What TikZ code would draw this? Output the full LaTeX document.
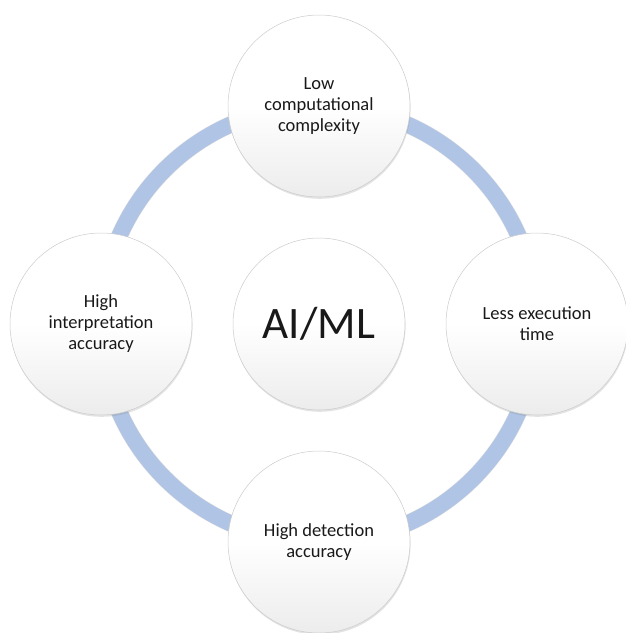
\documentclass[tikz,border=0pt]{standalone}
\usepackage{fontspec}
\setmainfont{Carlito}
\usepackage{xcolor}
\usepackage{tikz}
\usetikzlibrary{positioning,calc,shadows,backgrounds}

\definecolor{ringblue}{HTML}{B0C4E5}
\definecolor{bubblegray}{HTML}{ECECEC}

\begin{document}
\begin{tikzpicture}[x=1pt,y=1pt]

		\tikzset{
			bubble/.style={circle, draw=gray!40, line width=0.5pt,
				top color=white, bottom color=bubblegray, middle color=white,
				drop shadow={opacity=0.22, shadow xshift=0.6pt, shadow yshift=-1.8pt},
				minimum size=182pt, inner sep=0pt, align=center, text=black!90,
				font=\fontsize{18.5}{21}\selectfont},
			hub/.style={bubble, minimum size=172pt, font=\fontsize{45}{50}\selectfont},
			ring/.style={line width=16pt, draw=ringblue},
			ringshade/.style={line width=17pt, draw=black, opacity=0.12}
		}

		% ===== KHUNG ẢNH =====
		\useasboundingbox (0,0) rectangle (625,-633);

		% ===== 5 VÒNG TRÒN =====
		\node[hub] (ai) at (319,-324) {AI/ML};

		\node[bubble] (low) at (319,-106) {Low\\computational\\complexity};
		\node[bubble] (less) at (537,-324) {Less execution\\time};
		\node[bubble] (det) at (319,-542) {High detection\\accuracy};
		\node[bubble] (interp) at (101,-324) {High\\interpretation\\accuracy};

		% ===== VÒNG XANH NỐI CÁC VÒNG TRÒN (nằm phía sau) =====
		\begin{scope}[on background layer]
			\draw[ringshade, yshift=-1.5pt] (low.center) to[out=0,in=90] (less.center)
				to[out=-90,in=0] (det.center) to[out=180,in=-90] (interp.center)
				to[out=90,in=180] (low.center);
			\draw[ring] (low.center) to[out=0,in=90] (less.center);
			\draw[ring] (less.center) to[out=-90,in=0] (det.center);
			\draw[ring] (det.center) to[out=180,in=-90] (interp.center);
			\draw[ring] (interp.center) to[out=90,in=180] (low.center);
		\end{scope}

	\end{tikzpicture}
\end{document}
